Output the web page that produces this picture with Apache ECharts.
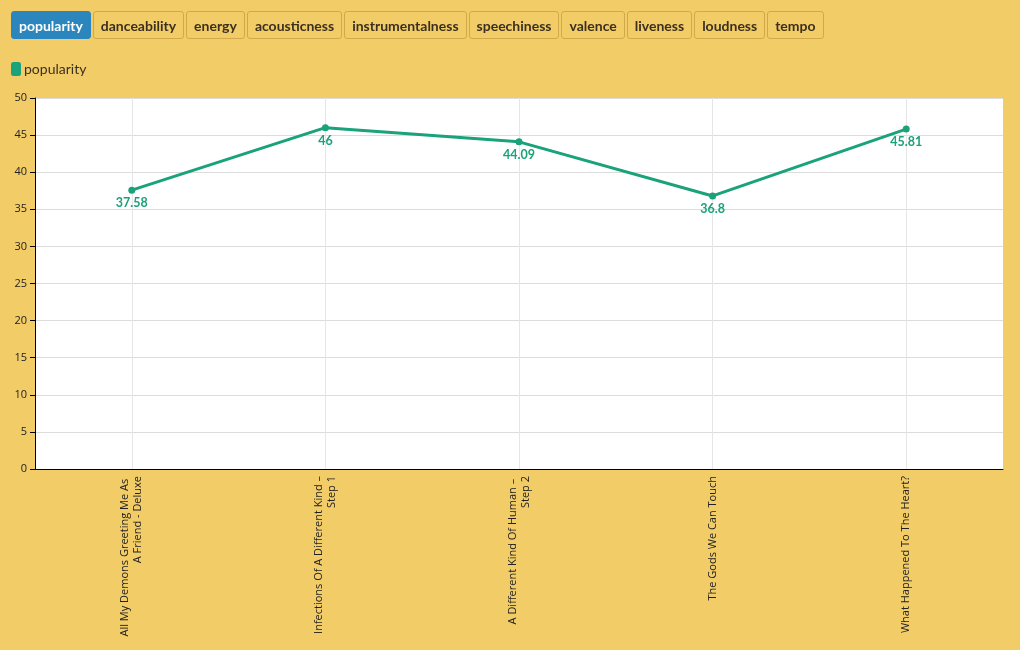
<!DOCTYPE html>
<html><head><meta charset="utf-8">
<script src="https://cdn.jsdelivr.net/npm/echarts@6/dist/echarts.min.js"></script>
<style>
html,body{margin:0;padding:0;background:#f2cc67;width:1020px;height:650px;overflow:hidden;font-family:Lato,"Noto Sans",sans-serif;}
#btns{position:absolute;left:11px;top:11px;display:flex;gap:2px;z-index:2;}
#btns button{height:28px;padding:0 7px;font-family:Lato,"Noto Sans",sans-serif;font-weight:bold;font-size:14px;color:#3b3020;background:#f2cc67;border:1px solid #d2a94a;border-radius:3px;cursor:pointer;}
#btns button.active{background:#2a86bd;color:#fff;border-color:#2a86bd;}
#chart{position:absolute;left:0;top:0;width:1020px;height:650px;}
</style></head>
<body>
<div id="btns"></div>
<div id="chart"></div>
<script>
const features = ["popularity","danceability","energy","acousticness","instrumentalness","speechiness","valence","liveness","loudness","tempo"];
const albums = ["All My Demons Greeting Me As A Friend - Deluxe","Infections Of A Different Kind – Step 1","A Different Kind Of Human – Step 2","The Gods We Can Touch","What Happened To The Heart?"];
const popularity = [37.58, 46, 44.09, 36.8, 45.81];
const yTicks = {min:0, max:50, interval:5};

const btns = document.getElementById('btns');
features.forEach((f,i)=>{const b=document.createElement('button');b.textContent=f;if(i===0)b.className='active';btns.appendChild(b);});

const chart = echarts.init(document.getElementById('chart'));
const green = '#1aa27a';
chart.setOption({
  backgroundColor:'transparent',
  animation:false,
  legend:{left:11,top:62,padding:0,icon:'roundRect',itemWidth:10,itemHeight:14,itemGap:4,
    textStyle:{color:'#3b3020',fontSize:14,fontFamily:'Lato',padding:[0,0,0,-2]},data:['popularity']},
  grid:{left:35,top:98,right:17,bottom:181,show:true,backgroundColor:'#ffffff',borderWidth:0},
  xAxis:{type:'category',data:albums,boundaryGap:true,
    axisLine:{lineStyle:{color:'#000',width:1}},
    axisTick:{alignWithLabel:true,length:5,lineStyle:{color:'#000'}},
    splitLine:{show:true,alignWithLabel:true,lineStyle:{color:'#e6e6e6'}},
    axisLabel:{rotate:90,interval:0,fontSize:11,color:'#222',fontFamily:'Open Sans',width:165,overflow:'break',lineHeight:13,margin:7}},
  yAxis:{type:'value',min:yTicks.min,max:yTicks.max,interval:yTicks.interval,
    axisLine:{show:true,lineStyle:{color:'#000'}},
    axisTick:{show:true,length:5,lineStyle:{color:'#000'}},
    splitLine:{lineStyle:{color:'#dcdcdc'}},
    axisLabel:{fontSize:11,color:'#222',fontFamily:'Open Sans',margin:8}},
  series:[{name:'popularity',type:'line',data:popularity,color:green,
    lineStyle:{width:3,color:green},symbol:'circle',symbolSize:7,
    itemStyle:{color:green},
    label:{show:true,position:'bottom',distance:3,color:green,fontWeight:'bold',fontSize:12.5,fontFamily:'Lato'}}]
});
</script>
</body></html>
